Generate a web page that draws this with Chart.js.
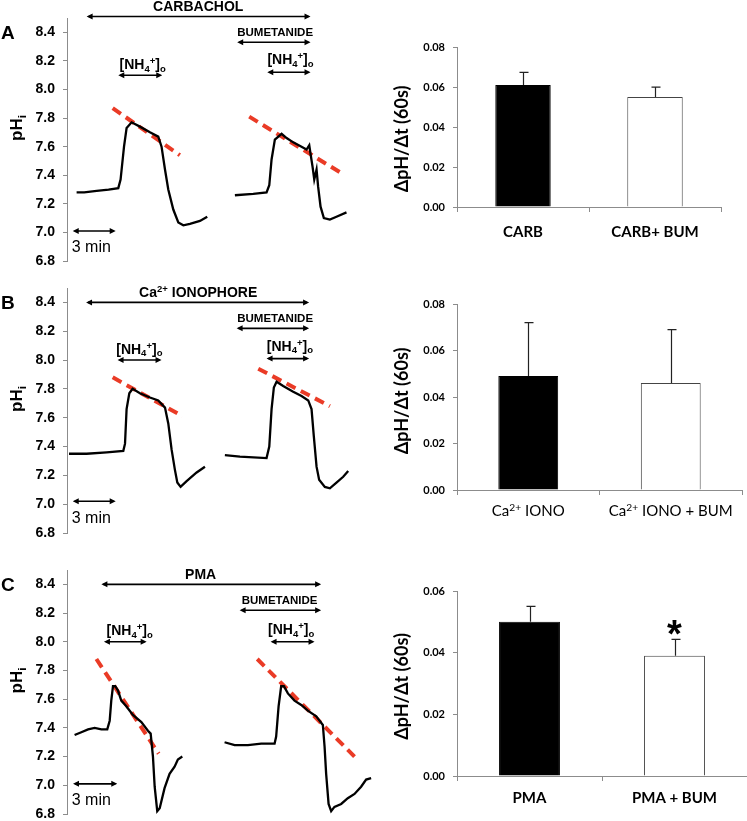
<!DOCTYPE html>
<html>
<head>
<meta charset="utf-8">
<script src="https://cdn.jsdelivr.net/npm/chart.js@4.4.1/dist/chart.umd.min.js"></script>
<style>
  body { margin: 0; background: #fff; width: 747px; height: 821px; position: relative; overflow: hidden; }
  .panel { position: absolute; }
</style>
</head>
<body>
<div class="panel" style="left:0;top:0;width:376px;height:270px"><canvas id="traceA"></canvas></div>
<div class="panel" style="left:0;top:270px;width:376px;height:275px"><canvas id="traceB"></canvas></div>
<div class="panel" style="left:0;top:548px;width:376px;height:275px"><canvas id="traceC"></canvas></div>
<div class="panel" style="left:380px;top:30px;width:367px;height:222px"><canvas id="barA"></canvas></div>
<div class="panel" style="left:380px;top:285px;width:367px;height:250px"><canvas id="barB"></canvas></div>
<div class="panel" style="left:380px;top:570px;width:367px;height:251px"><canvas id="barC"></canvas></div>
<script>
// pHi traces, time in minutes
const tA1 = [0.67, 1.2, 2.07, 2.9, 3.58, 3.74, 3.98, 4.16, 4.51, 5.09, 5.79, 6.37, 6.6, 6.84, 7.07, 7.42, 7.77, 8.12, 8.58, 9.28, 9.79];
const phA1 = [7.28, 7.28, 7.29, 7.30, 7.31, 7.37, 7.60, 7.73, 7.77, 7.74, 7.70, 7.67, 7.60, 7.44, 7.30, 7.16, 7.07, 7.05, 7.06, 7.08, 7.11];
const tA2 = [11.72, 13.0, 13.93, 14.12, 14.28, 14.51, 14.98, 15.33, 15.79, 16.37, 16.72, 16.91, 17.0, 17.14, 17.26, 17.42, 17.53, 17.7, 17.93, 18.35, 18.81, 19.51];
const phA2 = [7.26, 7.27, 7.28, 7.33, 7.51, 7.65, 7.69, 7.66, 7.63, 7.60, 7.58, 7.61, 7.55, 7.46, 7.37, 7.44, 7.32, 7.18, 7.10, 7.09, 7.11, 7.14];
const tB1 = [0.14, 1.37, 2.77, 3.93, 4.05, 4.16, 4.35, 4.58, 5.09, 5.79, 6.37, 6.84, 7.07, 7.3, 7.53, 7.7, 7.93, 8.35, 9.05, 9.63];
const phB1 = [7.35, 7.35, 7.36, 7.37, 7.42, 7.66, 7.77, 7.80, 7.77, 7.74, 7.72, 7.67, 7.56, 7.38, 7.24, 7.15, 7.12, 7.16, 7.22, 7.26];
const tB2 = [11.02, 12.07, 13.93, 14.12, 14.28, 14.44, 14.63, 15.09, 15.79, 16.37, 16.84, 17.07, 17.23, 17.42, 17.6, 18.0, 18.35, 18.81, 19.28, 19.63];
const phB2 = [7.34, 7.33, 7.32, 7.40, 7.66, 7.81, 7.85, 7.82, 7.78, 7.75, 7.72, 7.66, 7.47, 7.26, 7.17, 7.12, 7.11, 7.15, 7.19, 7.23];
const tC1 = [0.53, 1.0, 1.47, 1.93, 2.4, 2.81, 2.98, 3.09, 3.21, 3.37, 3.56, 3.79, 4.14, 4.6, 5.19, 5.65, 5.84, 6.0, 6.12, 6.3, 6.47, 6.81, 7.16, 7.51, 7.74, 8.05];
const phC1 = [7.35, 7.37, 7.39, 7.40, 7.39, 7.39, 7.45, 7.59, 7.69, 7.69, 7.66, 7.59, 7.55, 7.49, 7.44, 7.38, 7.36, 7.20, 6.99, 6.82, 6.84, 6.98, 7.08, 7.13, 7.18, 7.20];
const tC2 = [11.0, 11.7, 12.63, 13.56, 14.49, 14.6, 14.77, 14.95, 15.14, 15.42, 15.88, 16.35, 16.81, 17.4, 17.86, 17.98, 18.09, 18.26, 18.44, 18.67, 19.14, 19.6, 20.07, 20.53, 20.88, 21.23];
const phC2 = [7.30, 7.28, 7.28, 7.29, 7.29, 7.34, 7.55, 7.69, 7.69, 7.64, 7.59, 7.56, 7.52, 7.48, 7.42, 7.27, 7.08, 6.87, 6.82, 6.85, 6.87, 6.91, 6.94, 6.99, 7.04, 7.05];

// red recovery slopes (two end points each)
const tSlopeA1 = [3.19, 7.88], phSlopeA1 = [7.87, 7.54];
const tSlopeA2 = [12.72, 19.23], phSlopeA2 = [7.81, 7.41];
const tSlopeB1 = [3.19, 8.07], phSlopeB1 = [7.88, 7.61];
const tSlopeB2 = [13.35, 18.35], phSlopeB2 = [7.94, 7.68];
const tSlopeC1 = [2.05, 6.4], phSlopeC1 = [7.88, 7.22];
const tSlopeC2 = [13.28, 20.07], phSlopeC2 = [7.88, 7.20];

const phTicks = [6.8, 7.0, 7.2, 7.4, 7.6, 7.8, 8.0, 8.2, 8.4];

// bar charts
const catA = ["CARB", "CARB+ BUM"];
const rateA = [0.061, 0.055];
const semA = [0.0063, 0.0049];
const catB = ["Ca^{2+} IONO", "Ca^{2+} IONO + BUM"];
const rateB = [0.049, 0.046];
const semB = [0.023, 0.023];
const catC = ["PMA", "PMA + BUM"];
const rateC = [0.050, 0.039];
const semC = [0.005, 0.0053];
const rateTicksAB = [0, 0.02, 0.04, 0.06, 0.08];
const rateTicksC = [0, 0.02, 0.04, 0.06];

const RED = "#ea3b26";
const AXIS = "#8c8c8c";
const SANS = "'Liberation Sans', Arial, sans-serif";
const BARFONT = "Lato, 'Liberation Sans', sans-serif";

function pairs(ts, ps) {
  return ts.map((t, i) => ({ x: t, y: ps[i] }));
}

// tiny markup: ^x or ^{xy} for superscript, _x for subscript
function parseRich(str) {
  const parts = [];
  let buf = "";
  let i = 0;
  while (i < str.length) {
    const c = str[i];
    if (c === "^" || c === "_") {
      if (buf) { parts.push({ text: buf, mode: "" }); buf = ""; }
      let t;
      if (str[i + 1] === "{") {
        const end = str.indexOf("}", i);
        t = str.slice(i + 2, end);
        i = end + 1;
      } else {
        t = str[i + 1];
        i += 2;
      }
      parts.push({ text: t, mode: c });
    } else {
      buf += c;
      i++;
    }
  }
  if (buf) parts.push({ text: buf, mode: "" });
  return parts;
}

// y is the vertical middle of the main text
function drawRich(ctx, str, x, y, size, weight, family, align) {
  const parts = parseRich(str);
  const small = size * 0.68;
  const fontFor = (m) => `${weight} ${m ? small : size}px ${family}`;
  let w = 0;
  parts.forEach((p) => {
    ctx.font = fontFor(p.mode);
    p.w = ctx.measureText(p.text).width;
    w += p.w;
  });
  let cx = align === "center" ? x - w / 2 : align === "right" ? x - w : x;
  const base = y + size * 0.36;
  ctx.textAlign = "left";
  ctx.textBaseline = "alphabetic";
  parts.forEach((p) => {
    ctx.font = fontFor(p.mode);
    const dy = p.mode === "^" ? -size * 0.36 : p.mode === "_" ? size * 0.2 : 0;
    ctx.fillText(p.text, cx, base + dy);
    cx += p.w;
  });
}

function doubleArrow(ctx, x1, x2, y) {
  const head = 6;
  const half = 3;
  ctx.beginPath();
  ctx.moveTo(x1 + 2, y);
  ctx.lineTo(x2 - 2, y);
  ctx.stroke();
  ctx.beginPath();
  ctx.moveTo(x1, y);
  ctx.lineTo(x1 + head, y - half);
  ctx.lineTo(x1 + head, y + half);
  ctx.closePath();
  ctx.moveTo(x2, y);
  ctx.lineTo(x2 - head, y - half);
  ctx.lineTo(x2 - head, y + half);
  ctx.closePath();
  ctx.fill();
}

const traceDecor = {
  id: "traceDecor",
  afterDraw(chart, args, opts) {
    const { ctx } = chart;
    const xs = chart.scales.x;
    const ys = chart.scales.y;
    ctx.save();
    ctx.fillStyle = "#000";
    ctx.strokeStyle = "#000";
    ctx.lineWidth = 1.6;

    ctx.font = `bold 19px ${SANS}`;
    ctx.textAlign = "left";
    ctx.textBaseline = "middle";
    ctx.fillText(opts.letter, 1, ys.getPixelForValue(8.4) + 1);

    ctx.save();
    ctx.translate(16, ys.getPixelForValue(7.73));
    ctx.rotate(-Math.PI / 2);
    drawRich(ctx, "pH_i", 0, 0, 17, "bold", SANS, "center");
    ctx.restore();

    opts.arrows.forEach((a) => {
      doubleArrow(ctx, xs.getPixelForValue(a[0]), xs.getPixelForValue(a[1]), ys.getPixelForValue(a[2]));
    });
    opts.labels.forEach((l) => {
      drawRich(ctx, l.text, xs.getPixelForValue(l.t), ys.getPixelForValue(l.ph), l.size, l.weight || "bold", SANS, l.align || "center");
    });
    ctx.restore();
  },
};

function traceChart(id, series, slopes, decor, pad) {
  const datasets = series.map((s) => ({
    data: pairs(s[0], s[1]),
    borderColor: "#000",
    borderWidth: 2.3,
    pointRadius: 0,
    tension: 0,
  }));
  slopes.forEach((s) => {
    datasets.push({
      data: pairs(s[0], s[1]),
      borderColor: RED,
      borderWidth: 4,
      borderDash: [10, 6],
      pointRadius: 0,
    });
  });
  return new Chart(document.getElementById(id), {
    type: "line",
    data: { datasets },
    options: {
      responsive: true,
      maintainAspectRatio: false,
      animation: false,
      layout: { padding: { top: pad[0], bottom: pad[1], left: 0, right: 1 } },
      plugins: { legend: { display: false }, tooltip: { enabled: false }, traceDecor: decor },
      scales: {
        x: { type: "linear", min: 0, max: 21.5, display: false },
        y: {
          min: 6.8,
          max: 8.5,
          afterBuildTicks: (s) => { s.ticks = phTicks.map((v) => ({ value: v })); },
          afterFit: (s) => { s.width = 67; s.paddingTop = 0; s.paddingBottom = 0; },
          ticks: {
            padding: 8,
            color: "#000",
            font: { family: SANS, size: 14, weight: "bold" },
            callback: (v) => Number(v).toFixed(1),
          },
          grid: { drawOnChartArea: false, tickLength: 4, color: AXIS },
          border: { color: AXIS, width: 1 },
        },
      },
    },
    plugins: [traceDecor],
  });
}

const barDecor = {
  id: "barDecor",
  afterDraw(chart, args, opts) {
    const { ctx, chartArea } = chart;
    const xs = chart.scales.x;
    const ys = chart.scales.y;
    const meta = chart.getDatasetMeta(0);
    ctx.save();
    // error bars (upper half only)
    ctx.strokeStyle = "#222";
    ctx.lineWidth = 1.2;
    meta.data.forEach((bar, i) => {
      const top = ys.getPixelForValue(opts.values[i] + opts.errors[i]);
      const x = Math.round(bar.x) + 0.5;
      ctx.beginPath();
      ctx.moveTo(x, bar.y);
      ctx.lineTo(x, top);
      ctx.moveTo(x - 4, top);
      ctx.lineTo(x + 5, top);
      ctx.stroke();
    });

    ctx.fillStyle = "#000";
    // category labels
    opts.labels.forEach((lab, i) => {
      drawRich(ctx, lab, xs.getPixelForValue(i), chartArea.bottom + opts.labelGap, opts.labelSize, opts.labelWeight, BARFONT, "center");
    });

    // y title
    ctx.save();
    ctx.translate(22, (chartArea.top + chartArea.bottom) / 2 + opts.titleShift);
    ctx.rotate(-Math.PI / 2);
    ctx.font = `bold 18px ${BARFONT}`;
    ctx.textAlign = "center";
    ctx.textBaseline = "middle";
    ctx.fillText("ΔpH/Δt (60s)", 0, 0);
    ctx.restore();

    if (opts.star !== undefined) {
      const i = opts.star;
      const top = ys.getPixelForValue(opts.values[i] + opts.errors[i]);
      ctx.font = `bold 38px ${SANS}`;
      ctx.textAlign = "center";
      ctx.textBaseline = "alphabetic";
      const m = ctx.measureText("*");
      const cy = top - 12;
      ctx.fillText("*", meta.data[i].x, cy + (m.actualBoundingBoxAscent - m.actualBoundingBoxDescent) / 2);
    }
    ctx.restore();
  },
};

function barChart(id, cats, values, errors, ticks, cfg) {
  return new Chart(document.getElementById(id), {
    type: "bar",
    data: {
      labels: cats,
      datasets: [
        {
          data: values,
          backgroundColor: ["#000", "#fff"],
          borderColor: ["#000", "#444"],
          borderWidth: 1,
          categoryPercentage: 1,
          barPercentage: 0.42,
        },
      ],
    },
    options: {
      responsive: true,
      maintainAspectRatio: false,
      animation: false,
      layout: { padding: { top: cfg.padTop, bottom: 0, left: 0, right: cfg.padRight } },
      plugins: {
        legend: { display: false },
        tooltip: { enabled: false },
        barDecor: {
          values,
          errors,
          labels: cats,
          labelGap: cfg.labelGap,
          labelSize: cfg.labelSize,
          labelWeight: cfg.labelWeight,
          titleShift: cfg.titleShift,
          star: cfg.star,
        },
      },
      scales: {
        x: {
          ticks: { display: false },
          afterFit: (s) => { s.height = 45; s.paddingLeft = 0; s.paddingRight = 0; },
          grid: { offset: true, drawOnChartArea: false, tickLength: 5, color: AXIS },
          border: { color: AXIS, width: 1 },
        },
        y: {
          min: 0,
          max: ticks[ticks.length - 1],
          afterBuildTicks: (s) => { s.ticks = ticks.map((v) => ({ value: v })); },
          afterFit: (s) => { s.width = 77; s.paddingTop = 0; s.paddingBottom = 0; },
          ticks: {
            padding: 8,
            color: "#000",
            font: { family: BARFONT, size: 11, weight: "bold" },
            callback: (v) => Number(v).toFixed(2),
          },
          grid: { drawOnChartArea: false, tickLength: 4, color: AXIS },
          border: { color: AXIS, width: 1 },
        },
      },
    },
    plugins: [barDecor],
  });
}

traceChart("traceA", [[tA1, phA1], [tA2, phA2]], [[tSlopeA1, phSlopeA1], [tSlopeA2, phSlopeA2]], {
  letter: "A",
  arrows: [[1.37, 17.0, 8.51], [11.88, 17.0, 8.33], [3.58, 6.65, 8.10], [13.98, 17.0, 8.12], [0.4, 3.4, 7.01]],
  labels: [
    { text: "CARBACHOL", t: 9.16, ph: 8.585, size: 14 },
    { text: "BUMETANIDE", t: 14.53, ph: 8.40, size: 11.5 },
    { text: "[NH_4^+]_o", t: 5.28, ph: 8.18, size: 14 },
    { text: "[NH_4^+]_o", t: 15.6, ph: 8.21, size: 14 },
    { text: "3 min", t: 0.33, ph: 6.9, size: 16, weight: "normal", align: "left" },
  ],
}, [18, 9]);

traceChart("traceB", [[tB1, phB1], [tB2, phB2]], [[tSlopeB1, phSlopeB1], [tSlopeB2, phSlopeB2]], {
  letter: "B",
  arrows: [[1.33, 16.9, 8.40], [11.84, 16.9, 8.22], [3.53, 6.6, 8.0], [13.93, 16.9, 8.01], [0.4, 3.4, 7.02]],
  labels: [
    { text: "Ca^{2+} IONOPHORE", t: 9.16, ph: 8.47, size: 14 },
    { text: "BUMETANIDE", t: 14.53, ph: 8.29, size: 11.5 },
    { text: "[NH_4^+]_o", t: 5.05, ph: 8.08, size: 14 },
    { text: "[NH_4^+]_o", t: 15.56, ph: 8.10, size: 14 },
    { text: "3 min", t: 0.33, ph: 6.91, size: 16, weight: "normal", align: "left" },
  ],
}, [18, 12]);

traceChart("traceC", [[tC1, phC1], [tC2, phC2]], [[tSlopeC1, phSlopeC1], [tSlopeC2, phSlopeC2]], {
  letter: "C",
  arrows: [[2.4, 17.74, 8.40], [12.05, 17.74, 8.22], [2.58, 5.56, 8.0], [14.21, 17.28, 8.0], [0.42, 3.51, 7.01]],
  labels: [
    { text: "PMA", t: 9.33, ph: 8.47, size: 14 },
    { text: "BUMETANIDE", t: 14.84, ph: 8.29, size: 11.5 },
    { text: "[NH_4^+]_o", t: 4.37, ph: 8.08, size: 14 },
    { text: "[NH_4^+]_o", t: 15.65, ph: 8.09, size: 14 },
    { text: "3 min", t: 0.33, ph: 6.9, size: 16, weight: "normal", align: "left" },
  ],
}, [22, 9]);

barChart("barA", catA, rateA, semA, rateTicksAB, { padTop: 17, padRight: 26, labelGap: 25, labelSize: 15, labelWeight: "bold", titleShift: 12 });
barChart("barB", catB, rateB, semB, rateTicksAB, { padTop: 19, padRight: 5, labelGap: 21, labelSize: 15, labelWeight: "normal", titleShift: 4 });
barChart("barC", catC, rateC, semC, rateTicksC, { padTop: 21, padRight: 0, labelGap: 22, labelSize: 15, labelWeight: "bold", titleShift: 3, star: 1 });
</script>
</body>
</html>
